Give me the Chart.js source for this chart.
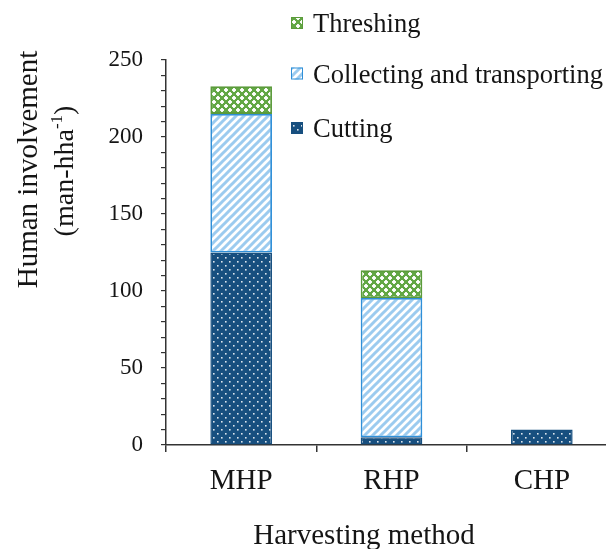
<!DOCTYPE html>
<html>
<head>
<meta charset="utf-8">
<script src="https://cdn.jsdelivr.net/npm/chart.js@4.4.0/dist/chart.umd.min.js"></script>
<style>
  html, body { margin: 0; padding: 0; background: #fff; overflow: hidden; }
  canvas { display: block; }
</style>
</head>
<body>
<canvas id="myChart" width="620" height="549"></canvas>
<script>
// dados do gráfico
var metodos = ['MHP', 'RHP', 'CHP'];
var cutting = [125, 5, 10];
var collecting = [90, 90.5, 0];
var threshing = [18, 18, 0];
var yTicks = [0, 50, 100, 150, 200, 250];

var fonte = '"Liberation Serif", "Times New Roman", serif';
var corTexto = '#151515';

// padrões das barras
function padraoPontos() {
  let c = document.createElement('canvas');
  c.width = 8; c.height = 8;
  let g = c.getContext('2d');
  g.fillStyle = '#174f7f';
  g.fillRect(0, 0, 8, 8);
  g.fillStyle = 'rgba(255,255,255,0.85)';
  g.fillRect(1, 1, 1.6, 1.6);
  g.fillRect(5, 5, 1.6, 1.6);
  return g.createPattern(c, 'repeat');
}

function padraoListras() {
  let c = document.createElement('canvas');
  c.width = 8; c.height = 8;
  let g = c.getContext('2d');
  g.fillStyle = '#ffffff';
  g.fillRect(0, 0, 8, 8);
  g.strokeStyle = '#9ccbef';
  g.lineWidth = 3;
  g.beginPath();
  g.moveTo(-2, 2); g.lineTo(2, -2);
  g.moveTo(0, 8); g.lineTo(8, 0);
  g.moveTo(6, 10); g.lineTo(10, 6);
  g.stroke();
  return g.createPattern(c, 'repeat');
}

function padraoCruz() {
  let c = document.createElement('canvas');
  c.width = 8; c.height = 8;
  let g = c.getContext('2d');
  g.fillStyle = '#62a744';
  g.fillRect(0, 0, 8, 8);
  g.fillStyle = 'rgba(255,255,255,0.92)';
  // cruzinhas
  g.fillRect(1, 0, 2, 4); g.fillRect(0, 1, 4, 2);
  g.fillRect(5, 4, 2, 4); g.fillRect(4, 5, 4, 2);
  return g.createPattern(c, 'repeat');
}

var pCutting = padraoPontos(),
    pCollecting = padraoListras(),
    pThreshing = padraoCruz();

// legenda e títulos desenhados à mão
const extras = {
  id: 'extras',
  afterDraw(chart) {
    const ctx = chart.ctx;
    ctx.save();
    ctx.fillStyle = corTexto;

    // legenda
    let itens = [
      { txt: 'Threshing', fill: pThreshing, borda: '#5b9b3b', base: 32 },
      { txt: 'Collecting and transporting', fill: pCollecting, borda: '#2f8fd8', base: 82.5 },
      { txt: 'Cutting', fill: pCutting, borda: '#174f7f', base: 137 }
    ];
    ctx.font = '26.5px ' + fonte;
    ctx.textAlign = 'left';
    ctx.textBaseline = 'alphabetic';
    itens.forEach(function (it) {
      let y = it.base - 15;
      ctx.fillStyle = it.fill;
      ctx.fillRect(291, y, 12, 12);
      ctx.strokeStyle = it.borda;
      ctx.lineWidth = 1;
      ctx.strokeRect(291.5, y + 0.5, 11, 11);
      ctx.fillStyle = corTexto;
      ctx.fillText(it.txt, 313, it.base);
    });

    // título do eixo x
    ctx.font = '29px ' + fonte;
    ctx.textAlign = 'center';
    ctx.fillText('Harvesting method', 364, 544);

    // título do eixo y (duas linhas)
    ctx.save();
    ctx.translate(37, 169.5);
    ctx.rotate(-Math.PI / 2);
    ctx.fillText('Human involvement', 0, 0);
    ctx.restore();

    ctx.save();
    ctx.translate(73, 171);
    ctx.rotate(-Math.PI / 2);
    let a = '(man-hha', b = '-1', c = ')';
    ctx.font = '28px ' + fonte;
    let wa = ctx.measureText(a).width, wc = ctx.measureText(c).width;
    ctx.font = '17px ' + fonte;
    let wb = ctx.measureText(b).width;
    let x0 = -(wa + wb + wc) / 2;
    ctx.textAlign = 'left';
    ctx.font = '28px ' + fonte;
    ctx.fillText(a, x0, 0);
    ctx.font = '17px ' + fonte;
    ctx.fillText(b, x0 + wa, -11);
    ctx.font = '28px ' + fonte;
    ctx.fillText(c, x0 + wa + wb, 0);
    ctx.restore();

    ctx.restore();
  }
};

const ctx = document.getElementById('myChart').getContext('2d');
const myChart = new Chart(ctx, {
  type: 'bar',
  data: {
    labels: metodos,
    datasets: [{
      label: 'Cutting',
      data: cutting,
      backgroundColor: pCutting,
      borderColor: '#174f7f',
      borderWidth: 1.5,
      borderSkipped: false
    }, {
      label: 'Collecting and transporting',
      data: collecting,
      backgroundColor: pCollecting,
      borderColor: '#2f8fd8',
      borderWidth: 1.8,
      borderSkipped: false
    }, {
      label: 'Threshing',
      data: threshing,
      backgroundColor: pThreshing,
      borderColor: '#5b9b3b',
      borderWidth: 1.8,
      borderSkipped: false
    }]
  },
  options: {
    responsive: false,
    animation: false,
    layout: { padding: { top: 60, right: 3, left: 0, bottom: 0 } },
    datasets: { bar: { barPercentage: 0.41, categoryPercentage: 1 } },
    plugins: {
      legend: { display: false },
      tooltip: { enabled: false }
    },
    scales: {
      x: {
        stacked: true,
        afterFit: function (s) { s.height = 104; },
        border: { color: '#333', width: 1.5 },
        grid: { offset: true, drawOnChartArea: false, tickLength: 7, color: '#333', lineWidth: 1.5 },
        ticks: { color: corTexto, font: { family: fonte, size: 29 }, padding: 12 }
      },
      y: {
        stacked: true,
        min: yTicks[0],
        max: yTicks[yTicks.length - 1],
        afterFit: function (s) { s.width = 166; },
        border: { color: '#333', width: 1.5 },
        grid: { drawOnChartArea: false, tickLength: 5, color: '#333', lineWidth: 1.2 },
        ticks: {
          stepSize: 10,
          autoSkip: false,
          color: corTexto,
          padding: 18,
          font: { family: fonte, size: 23 },
          callback: function (v) { return yTicks.indexOf(v) >= 0 ? v : ''; }
        }
      }
    }
  },
  plugins: [extras]
});
</script>
</body>
</html>
